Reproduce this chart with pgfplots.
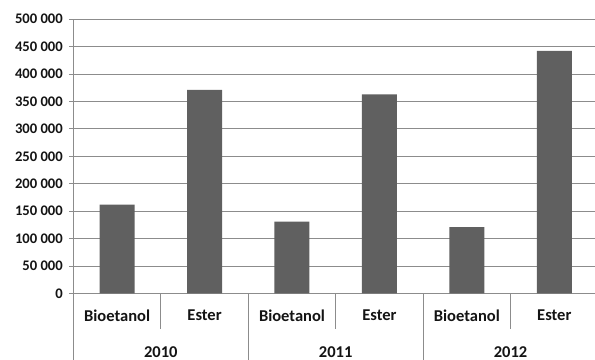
\documentclass[border=0pt]{standalone}
\usepackage{pgfplots}
\pgfplotsset{compat=1.18}
\usepackage{fontspec}
\setmainfont{Carlito}
\definecolor{barfill}{RGB}{96,96,96}
\definecolor{gridc}{RGB}{140,140,140}
\definecolor{txt}{RGB}{20,20,20}
\newcommand{\catfont}{\fontsize{16.5}{18}\selectfont\bfseries}
\begin{document}
\begin{tikzpicture}
\begin{axis}[
  name=ax,
  width=522bp, height=273bp,
  scale only axis,
  clip=false,
  xmin=-0.5, xmax=5.5,
  ymin=0, ymax=500000,
  ytick={0,50000,...,500000},
  scaled y ticks=false,
  yticklabel style={
    /pgf/number format/.cd, fixed, 1000 sep={\ }, assume math mode=true,
    /tikz/.cd, font=\fontsize{14.6}{16}\selectfont\bfseries, text=txt, xshift=-3bp},
  xtick={0,...,5},
  xticklabels={Bioetanol,Ester,Bioetanol,Ester,Bioetanol,Ester},
  xticklabel style={font=\catfont, text=txt, yshift=-9bp},
  axis x line*=bottom,
  axis y line*=left,
  axis line style={gridc, line width=0.8bp},
  x axis line style={-}, y axis line style={-},
  ymajorgrids,
  grid style={gridc, line width=0.8bp},
  major x tick style={draw=none},
  major y tick style={gridc, line width=0.8bp},
  major tick length=4bp,
  tick align=outside,
  ybar, bar width=0.4,
]
\addplot[fill=barfill, draw=none] coordinates {
  (0,162000) (1,371000) (2,131000) (3,363000) (4,121000) (5,442000)};
% short dividers between the two categories of a year
\pgfplotsinvokeforeach{0.5,2.5,4.5}{
  \draw[gridc, line width=0.8bp] (axis cs:#1,0) -- ([yshift=-35bp]axis cs:#1,0);
}
% long dividers between years
\pgfplotsinvokeforeach{-0.5,1.5,3.5,5.5}{
  \draw[gridc, line width=0.8bp] (axis cs:#1,0) -- ([yshift=-66bp]axis cs:#1,0);
}
\node[font=\catfont, text=txt] at ([yshift=-58bp]axis cs:0.5,0) {2010};
\node[font=\catfont, text=txt] at ([yshift=-58bp]axis cs:2.5,0) {2011};
\node[font=\catfont, text=txt] at ([yshift=-58bp]axis cs:4.5,0) {2012};
\end{axis}
\pgfresetboundingbox
\path[use as bounding box] ([xshift=-73bp,yshift=-66bp]ax.south west) rectangle ([xshift=-3bp,yshift=19bp]ax.north east);
\end{tikzpicture}
\end{document}
